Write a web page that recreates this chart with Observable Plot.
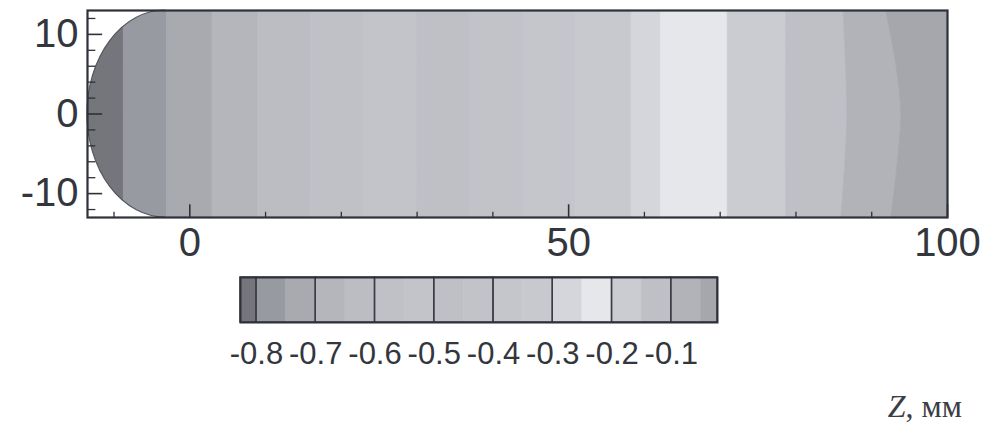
<!DOCTYPE html>
<html><head><meta charset="utf-8">
<script src="https://cdn.jsdelivr.net/npm/d3@7"></script>
<script src="https://cdn.jsdelivr.net/npm/@observablehq/plot@0.6"></script>
<style>
body{margin:0;background:#fff;}
#wrap{position:relative;width:990px;height:425px;overflow:hidden;}
#wrap svg{display:block;}
#zlabel{position:absolute;right:28px;top:390px;font-family:"Liberation Serif","Times New Roman",serif;font-size:32px;line-height:32px;color:#3a3d44;white-space:nowrap;}
</style></head><body><div id="wrap"><div id="zlabel"><i>Z</i>, мм</div></div>
<script>
// ---- colour levels (contour thresholds and their grey fills) ----
const thresholds = [-0.8,-0.75,-0.7,-0.65,-0.6,-0.55,-0.5,-0.45,-0.4,-0.35,-0.3,-0.25,-0.2,-0.15,-0.1,-0.05];
const grays = ["#74767c","#989aa1","#a8aab0","#b4b6bc","#bbbdc3","#bfc1c7","#c2c4ca","#bec0c6","#c1c3c9","#c4c6cc","#c7c9cf","#d4d6db","#e5e7eb","#caccd1","#bec0c6","#b1b3b9","#a5a7ad"];

// ---- bands of the field along Z (value of each band, left to right) ----
const bandValues = [-0.81,-0.775,-0.725,-0.675,-0.625,-0.575,-0.525,-0.475,-0.425,-0.375,-0.325,-0.275,-0.225,-0.175,-0.125,-0.075,-0.035];
// straight band boundaries (Z, mm)
const straightEdges = [-8.7,-3.0,3.0,9.0,16,23,30,37,44,51,58.3,62.2,71.0,78.7];
// curved boundaries sampled at these heights
const edgeY = [13,6.5,0,-6.5,-13];
const edgeMinus010 = [86.3,86.6,86.8,86.5,86.0];
const edgeMinus005 = [91.9,93.2,93.9,93.4,92.6];

// ---- axes ----
const xDomain = [-13.5,100];
const yDomain = [-13,13];
const xMajor = [0,50,100];
const xMinor = [-10,10,20,30,40,60,70,80,90];
const yMajor = [-10,0,10];
const yMinor = [-12,-8,-6,-4,-2,2,4,6,8,12];
const capCenterX = -3.2; // where the rounded nose meets the straight part

// ---- colour bar ----
const colorbarRange = [-0.827,-0.022];
const colorbarBoxes = [-0.827,-0.8,-0.7,-0.6,-0.5,-0.4,-0.3,-0.2,-0.1,-0.022];
const colorbarLabels = [-0.8,-0.7,-0.6,-0.5,-0.4,-0.3,-0.2,-0.1];

const textColor = "#33363d";
const colorOpts = {type:"threshold", domain: thresholds, range: grays};

const edges = [
  edgeY.map(() => xDomain[0]),
  ...straightEdges.map(x => edgeY.map(() => x)),
  edgeMinus010, edgeMinus005,
  edgeY.map(() => xDomain[1])
];
const bandRows = bandValues.flatMap((v,i) => edgeY.map((y,j) => ({band:i, value:v, y, x1:edges[i][j], x2:edges[i+1][j]})));

const main = Plot.plot({
  width: 990, height: 270,
  marginLeft: 87, marginRight: 43, marginTop: 10, marginBottom: 53,
  style: {fontFamily: "'Liberation Sans', Arial, sans-serif", color: textColor, background: "#fff"},
  x: {domain: xDomain, label: null},
  y: {domain: yDomain, label: null},
  color: colorOpts,
  marks: [
    Plot.areaX(bandRows, {y:"y", x1:"x1", x2:"x2", z:"band", fill:"value", stroke:"value", strokeWidth:0.8, curve:"catmull-rom"}),
    Plot.ruleX(xMinor, {x: d => d, y1: yDomain[0], y2: yDomain[0] + 0.65, stroke: "#2e3138", strokeWidth: 1.3}),
    Plot.ruleX(xMajor, {x: d => d, y1: yDomain[0], y2: yDomain[0] + 1.6, stroke: "#2e3138", strokeWidth: 1.6}),
    Plot.ruleY(yMinor, {y: d => d, x1: xDomain[0], x2: xDomain[0] + 1.1, stroke: "#2e3138", strokeWidth: 1.3}),
    Plot.ruleY(yMajor, {y: d => d, x1: xDomain[0], x2: xDomain[0] + 2.0, stroke: "#2e3138", strokeWidth: 1.6}),
    Plot.frame({stroke: "#2e3138", strokeWidth: 2.2}),
    Plot.axisX(xMajor, {tickSize: 0, tickPadding: 10, fontSize: 40, tickFormat: d => String(d), fill: textColor, label: null}),
    Plot.axisY(yMajor, {tickSize: 0, tickPadding: 9, fontSize: 40, tickFormat: d => String(d), fill: textColor, label: null})
  ]
});

// clip the field to the body outline (rounded nose on the left)
{
  const sx = main.scale("x").apply, sy = main.scale("y").apply;
  const x0 = sx(capCenterX), xr = sx(xDomain[1]), yt = sy(yDomain[1]), yb = sy(yDomain[0]);
  const rx = x0 - sx(xDomain[0]), ry = (yb - yt) / 2;
  const svg = d3.select(main);
  const defs = svg.insert("defs", ":first-child");
  defs.append("clipPath").attr("id", "capsule").append("path")
    .attr("d", `M${x0},${yt}L${xr},${yt}L${xr},${yb}L${x0},${yb}A${rx},${ry} 0 0 1 ${x0},${yt}Z`);
  const areaG = svg.select('g[aria-label="area"]');
  areaG.attr("clip-path", "url(#capsule)");
  const outline = d3.create("svg:path")
    .attr("d", `M${x0},${yb}A${rx},${ry} 0 0 1 ${x0},${yt}`)
    .attr("fill", "none").attr("stroke", "#55575e").attr("stroke-width", 1.2);
  areaG.node().after(outline.node());
}

const cbEdges = [colorbarRange[0], ...thresholds, colorbarRange[1]];
const cbCells = cbEdges.slice(0, -1).map((a, i) => ({x1: a, x2: cbEdges[i + 1], value: (a + cbEdges[i + 1]) / 2}));
const cbBoxes = colorbarBoxes.slice(0, -1).map((a, i) => ({x1: a, x2: colorbarBoxes[i + 1]}));

const bar = Plot.plot({
  width: 990, height: 135,
  marginLeft: 240, marginRight: 273, marginTop: 7, marginBottom: 83,
  style: {fontFamily: "'Liberation Sans', Arial, sans-serif", color: textColor, background: "#fff"},
  x: {domain: colorbarRange, label: null},
  color: colorOpts,
  marks: [
    Plot.rect(cbCells, {x1: "x1", x2: "x2", fill: "value", stroke: "value", strokeWidth: 0.5}),
    Plot.rect(cbBoxes, {x1: "x1", x2: "x2", fill: "none", stroke: "#3a3d44", strokeWidth: 1.4}),
    Plot.frame({stroke: "#2e3138", strokeWidth: 2}),
    Plot.axisX(colorbarLabels, {tickSize: 0, tickPadding: 19, fontSize: 31, tickFormat: d => d.toFixed(1), fill: textColor, label: null})
  ]
});

const wrap = document.getElementById("wrap");
wrap.insertBefore(bar, wrap.firstChild);
wrap.insertBefore(main, bar);
</script>
</body></html>
